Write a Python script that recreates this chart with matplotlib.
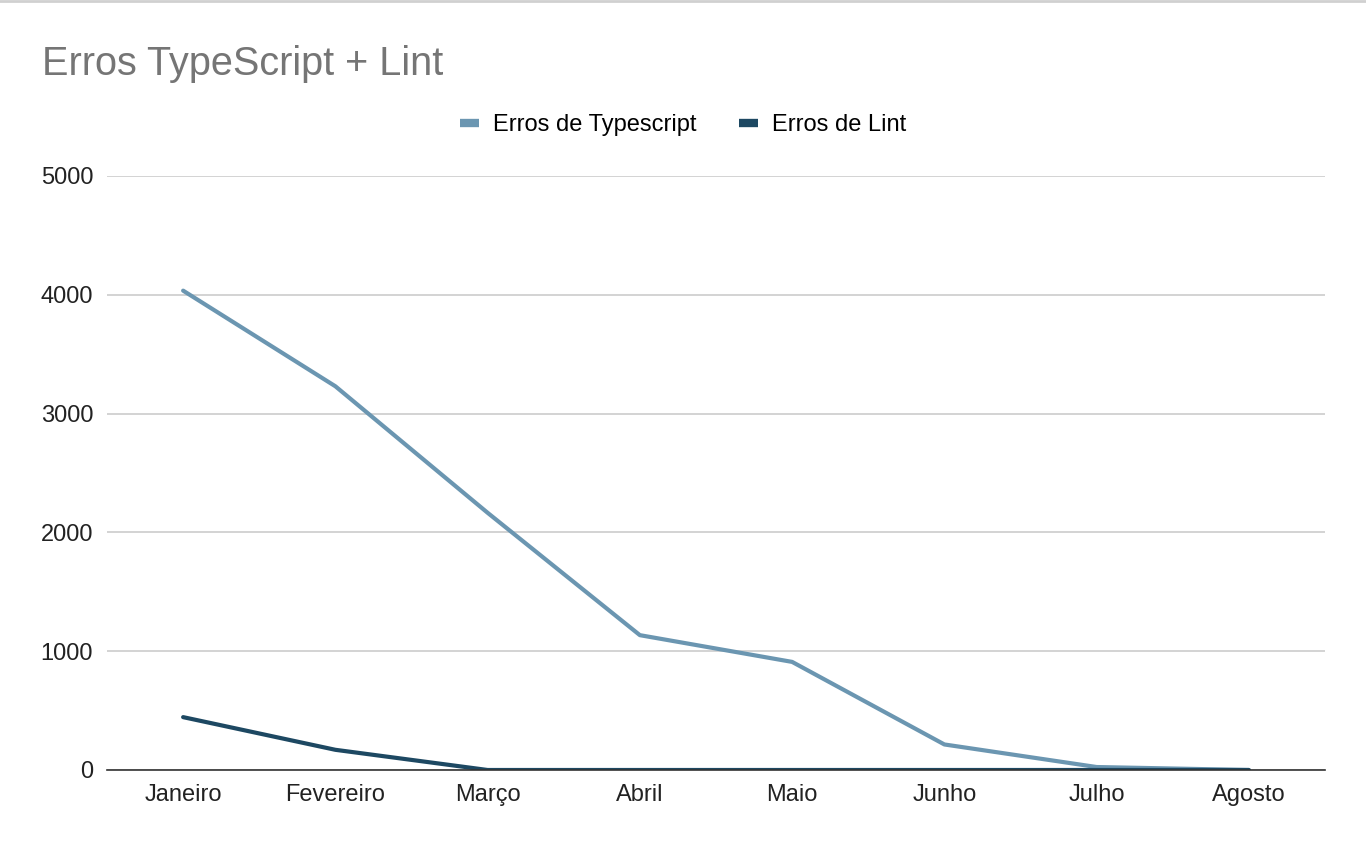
import matplotlib
matplotlib.use("Agg")
import matplotlib.pyplot as plt
from matplotlib.lines import Line2D

plt.rcParams["font.family"] = ["Liberation Sans", "DejaVu Sans"]

months = ["Janeiro", "Fevereiro", "Março", "Abril", "Maio", "Junho", "Julho", "Agosto"]
erros_typescript = [4035, 3230, 2165, 1135, 910, 215, 25, 0]
erros_lint = [445, 170, 0, 0, 0, 0, 0, 0]
y_ticks = [0, 1000, 2000, 3000, 4000, 5000]

TS_COLOR = "#6b96b1"
LINT_COLOR = "#1d4862"

fig = plt.figure(figsize=(13.66, 8.48), dpi=100)
ax = fig.add_axes([107 / 1366, 1 - 770 / 848, (1325 - 107) / 1366, (770 - 176) / 848])

x = list(range(len(months)))
ax.plot(x, erros_typescript, color=TS_COLOR, linewidth=3, solid_capstyle="round", zorder=3)
ax.plot(x, erros_lint, color=LINT_COLOR, linewidth=3, solid_capstyle="round", zorder=4)

ax.set_xlim(-0.5, len(months) - 0.5)
ax.set_ylim(0, 5000)
ax.set_yticks(y_ticks)
ax.set_yticklabels([str(v) for v in y_ticks])
ax.set_xticks(x)
ax.set_xticklabels(months)
ax.tick_params(axis="both", length=0, labelsize=17, colors="#222222")
ax.tick_params(axis="y", pad=10)
ax.tick_params(axis="x", pad=10)

ax.yaxis.grid(True, color="#cccccc", linewidth=1.2)
ax.set_axisbelow(True)
for side in ["top", "right", "left"]:
    ax.spines[side].set_visible(False)
ax.spines["bottom"].set_color("#333333")
ax.spines["bottom"].set_linewidth(1.2)
ax.spines["bottom"].set_zorder(5)

fig.text(42 / 1366, 1 - 64 / 848, "Erros TypeScript + Lint", fontsize=28.5,
         color="#757575", va="center", ha="left")

handles = [
    Line2D([0], [0], color=TS_COLOR, linewidth=6, solid_capstyle="butt"),
    Line2D([0], [0], color=LINT_COLOR, linewidth=6, solid_capstyle="butt"),
]
fig.legend(handles, ["Erros de Typescript", "Erros de Lint"],
           loc="center", bbox_to_anchor=(683 / 1366, 1 - 125 / 848),
           ncol=2, frameon=False, fontsize=17, handlelength=0.8,
           handletextpad=0.6, columnspacing=1.8)

# thin border line across the top of the screenshot
fig.add_artist(Line2D([0, 1], [0.999, 0.999], color="#d0d0d0", linewidth=2,
                      transform=fig.transFigure))

fig.savefig("out.png", dpi=100)
